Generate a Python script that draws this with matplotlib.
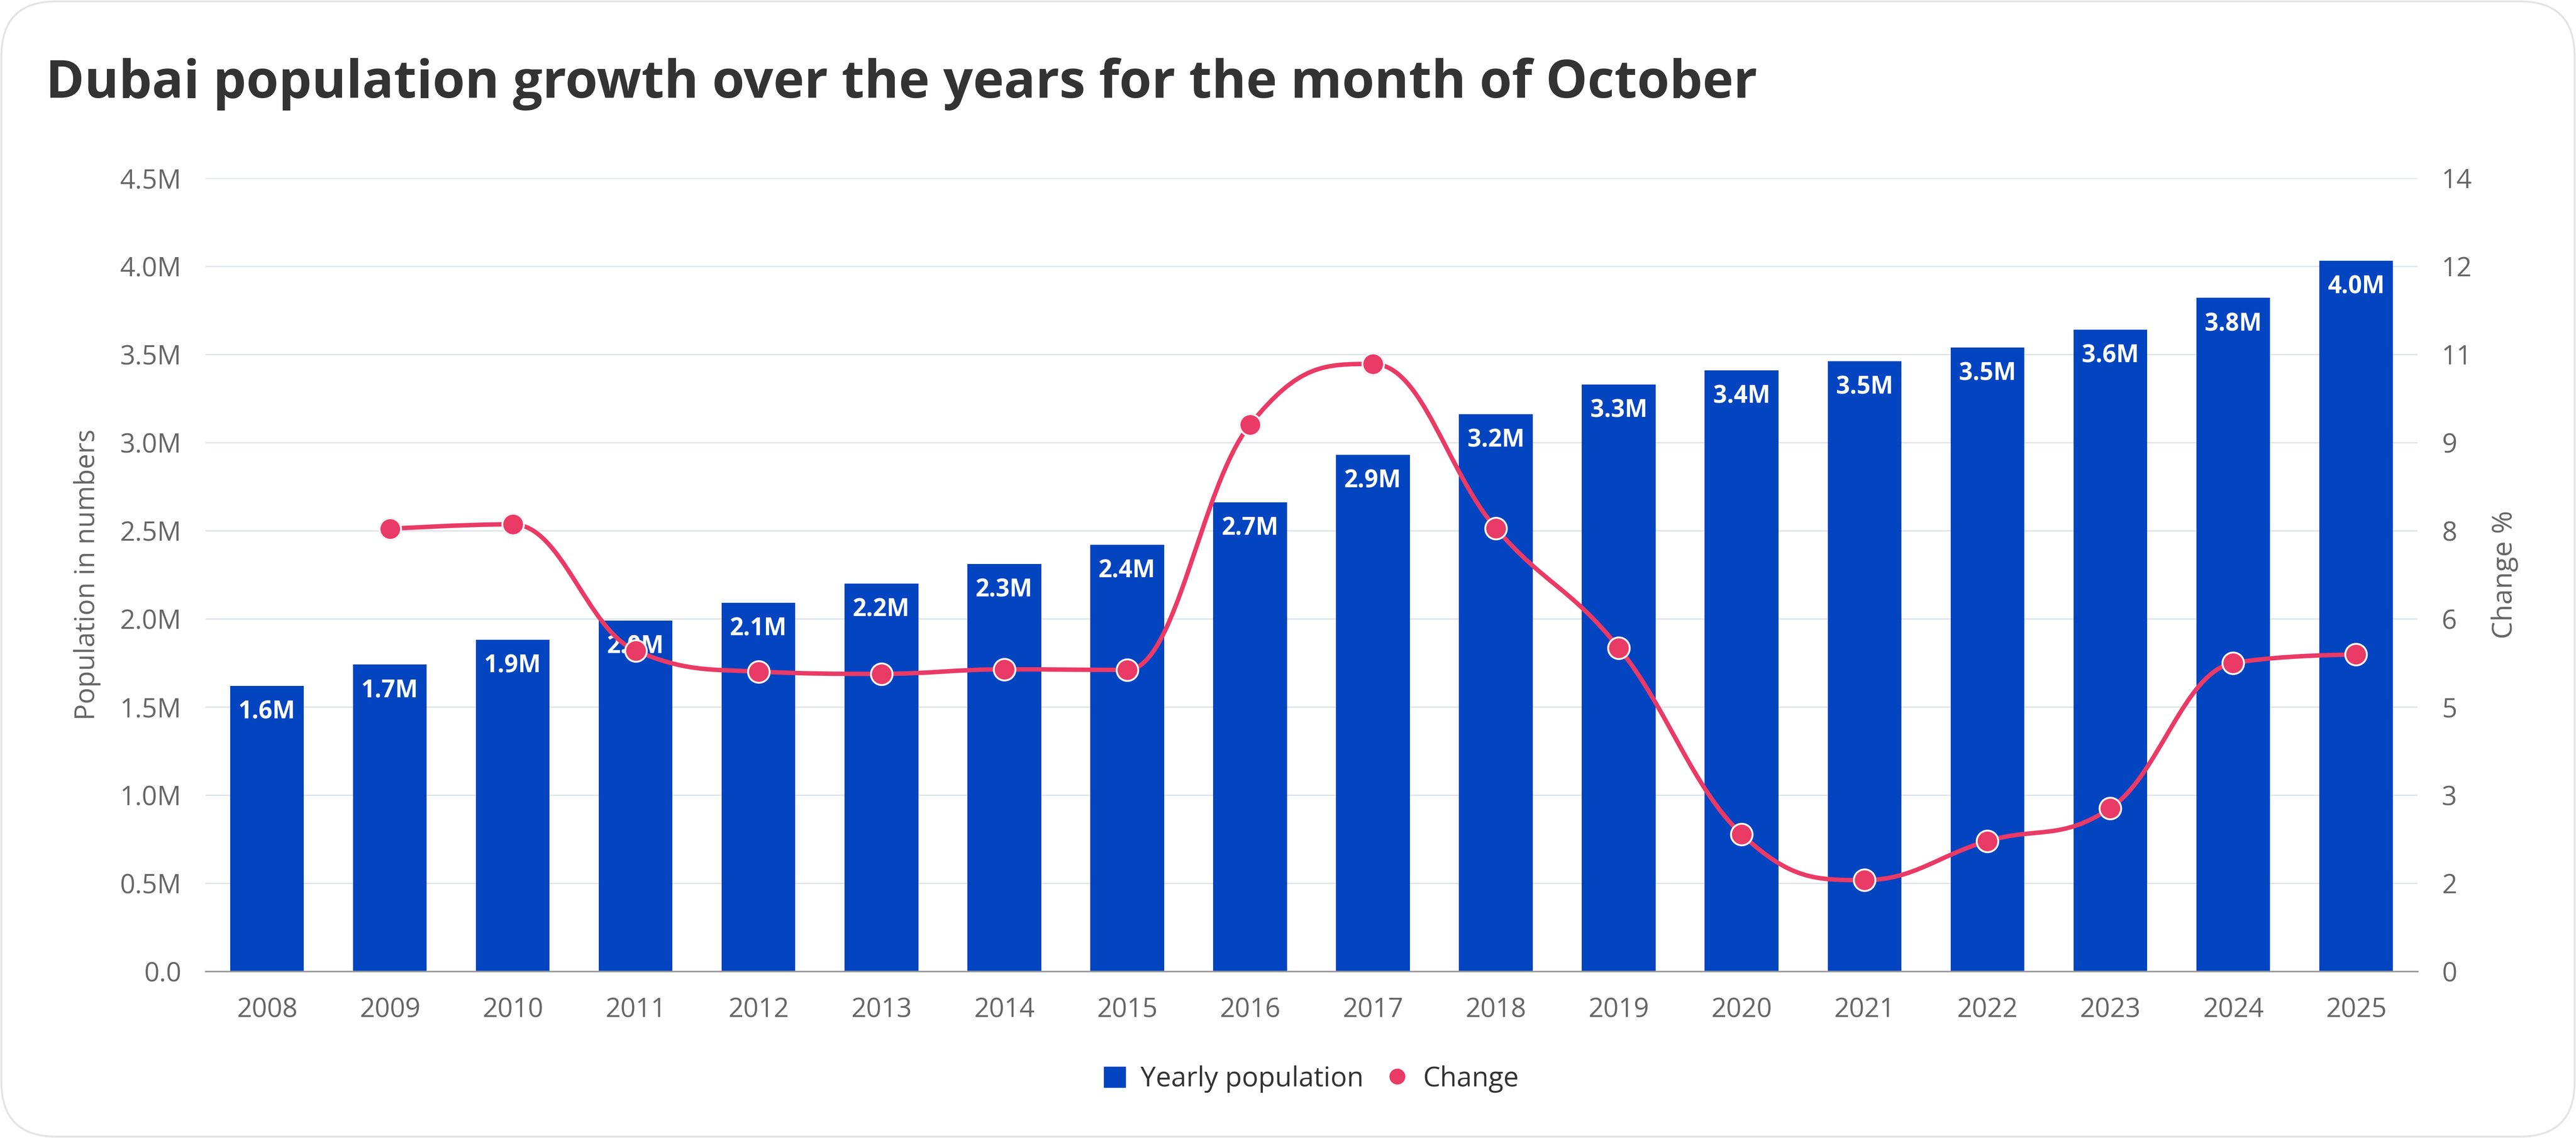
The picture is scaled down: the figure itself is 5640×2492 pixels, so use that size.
import numpy as np
import matplotlib
matplotlib.use('Agg')
from matplotlib import pyplot as plt
from matplotlib.path import Path
from matplotlib.patches import PathPatch, FancyBboxPatch, Patch
from matplotlib.lines import Line2D

plt.rcParams['font.family'] = ['Open Sans', 'DejaVu Sans']

# Data
years = ['2008', '2009', '2010', '2011', '2012', '2013', '2014', '2015', '2016',
         '2017', '2018', '2019', '2020', '2021', '2022', '2023', '2024', '2025']
population = [1.62, 1.74, 1.88, 1.99, 2.09, 2.20, 2.31, 2.42, 2.66,
              2.93, 3.16, 3.33, 3.41, 3.46, 3.54, 3.64, 3.82, 4.03]  # millions
change = [np.nan, 7.81, 7.89, 5.66, 5.29, 5.25, 5.33, 5.32, 9.65,
          10.72, 7.82, 5.71, 2.42, 1.61, 2.30, 2.88, 5.44, 5.59]  # percent
left_ticks = [0.0, 0.5, 1.0, 1.5, 2.0, 2.5, 3.0, 3.5, 4.0, 4.5]
left_labels = ['0.0', '0.5M', '1.0M', '1.5M', '2.0M', '2.5M', '3.0M', '3.5M', '4.0M', '4.5M']
right_max = 14

title = 'Dubai population growth over the years for the month of October'
bar_color = '#0344c0'
line_color = '#ea3a66'
grey = '#666666'

W, H = 5640, 2492
fig = plt.figure(figsize=(W / 100, H / 100), dpi=100)

# Card background with rounded corners
bg = fig.add_axes([0, 0, 1, 1], zorder=-5)
bg.set_xlim(0, W)
bg.set_ylim(0, H)
bg.axis('off')
bg.add_patch(FancyBboxPatch((3, 3), W - 6, H - 6, boxstyle='round,pad=0,rounding_size=120',
                            fc='white', ec='#e4e4e4', lw=3))

ax = fig.add_axes([450 / W, 1 - 2127 / H, (5293 - 450) / W, (2127 - 390) / H])
ax.patch.set_alpha(0)
x = np.arange(len(years))

# Bars with value labels inside the top
bars = ax.bar(x, population, width=0.6, color=bar_color, zorder=2)
for xi, v in zip(x, population):
    ax.annotate('%.1fM' % v, (xi, v), xytext=(0, -22), textcoords='offset points',
                ha='center', va='top', color='white', fontsize=38, fontweight='bold', zorder=3)

ax.set_xlim(-0.5, len(years) - 0.5)
ax.set_ylim(0, 4.5)
ax.set_yticks(left_ticks)
ax.set_yticklabels(left_labels)
ax.set_xticks(x)
ax.set_xticklabels(years)
ax.grid(axis='y', color='#e0e4ea', lw=2.2, zorder=0)
ax.set_axisbelow(True)
for s in ['top', 'left', 'right']:
    ax.spines[s].set_visible(False)
ax.spines['bottom'].set_color('#9a9a9a')
ax.spines['bottom'].set_linewidth(2.5)
ax.tick_params(axis='both', length=0, labelsize=42, labelcolor=grey)
ax.tick_params(axis='y', pad=38)
ax.tick_params(axis='x', pad=40)
ax.set_ylabel('Population in numbers', fontsize=43, color=grey, labelpad=30)

# Right axis with the change line
ax2 = ax.twinx()
ax2.set_ylim(0, right_max)
rticks = np.linspace(0, right_max, len(left_ticks))
ax2.set_yticks(rticks)
ax2.set_yticklabels(['%d' % round(t) for t in rticks])
for s in ax2.spines.values():
    s.set_visible(False)
ax2.tick_params(axis='y', length=0, labelsize=42, labelcolor=grey, pad=38)
ax2.set_ylabel('Change %', fontsize=44, color=grey, labelpad=30)


def spline_path(xs, ys, smoothing=1.5):
    # Smooth curve through points, same control point rule as a Highcharts spline
    n = len(xs)
    denom = smoothing + 1
    lc = [None] * n
    rc = [None] * n
    for i in range(1, n - 1):
        px, py = xs[i], ys[i]
        lx, ly = xs[i - 1], ys[i - 1]
        nx, ny = xs[i + 1], ys[i + 1]
        lcx = (smoothing * px + lx) / denom
        lcy = (smoothing * py + ly) / denom
        rcx = (smoothing * px + nx) / denom
        rcy = (smoothing * py + ny) / denom
        corr = ((rcy - lcy) * (rcx - px)) / (rcx - lcx) + py - rcy
        lcy += corr
        rcy += corr
        if lcy > ly and lcy > py:
            lcy = max(ly, py)
            rcy = 2 * py - lcy
        elif lcy < ly and lcy < py:
            lcy = min(ly, py)
            rcy = 2 * py - lcy
        if rcy > ny and rcy > py:
            rcy = max(ny, py)
            lcy = 2 * py - rcy
        elif rcy < ny and rcy < py:
            rcy = min(ny, py)
            lcy = 2 * py - rcy
        lc[i] = (lcx, lcy)
        rc[i] = (rcx, rcy)
    verts = [(xs[0], ys[0])]
    codes = [Path.MOVETO]
    for i in range(1, n):
        verts += [rc[i - 1] or (xs[i - 1], ys[i - 1]), lc[i] or (xs[i], ys[i]), (xs[i], ys[i])]
        codes += [Path.CURVE4] * 3
    return Path(verts, codes)


ch = np.array(change)
ok = ~np.isnan(ch)
ax2.add_patch(PathPatch(spline_path(list(x[ok].astype(float)), list(ch[ok])),
                        fc='none', ec=line_color, lw=7, capstyle='round', zorder=4))
ax2.plot(x[ok], ch[ok], 'o', ls='none', color=line_color, markersize=34,
         markeredgecolor='#f4f4f4', markeredgewidth=3, zorder=5)

# Title
fig.text(100 / W, 1 - 214 / H, title, fontsize=82.5, fontweight='bold', color='#333333',
         ha='left', va='baseline')

# Legend
handles = [Patch(color=bar_color),
           Line2D([], [], marker='o', ls='none', color=line_color, markersize=24)]
fig.legend(handles, ['Yearly population', 'Change'], loc='center', ncol=2,
           bbox_to_anchor=((450 + 5293) / 2 / W, 1 - 2363 / H), frameon=False,
           fontsize=43, labelcolor='#333333', handlelength=0.78, handleheight=0.78,
           handletextpad=0.55, columnspacing=0.85)

fig.savefig('out.png', dpi=100)
